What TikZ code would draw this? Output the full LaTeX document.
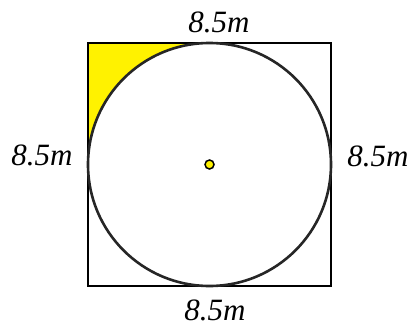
\documentclass[tikz,border=0pt]{standalone}
\usepackage{fontspec}
\setmainfont{Liberation Serif}
\usepackage{tikz}

\begin{document}
\begin{tikzpicture}[
  x=1pt, y=1pt,
  side/.style={font=\fontsize{31}{31}\selectfont\itshape, anchor=base, inner sep=0pt},
  frame/.style={draw=black, line width=1.2pt},
  ring/.style={draw=black!85, line width=2.6pt},
  dot/.style={circle, draw=black, fill=yellow, line width=1.5pt,
              minimum size=9pt, inner sep=0pt}
]
\useasboundingbox (0,0) rectangle (415,333);

% square corners and centre
\coordinate (sw) at (88,47);
\coordinate (ne) at (331,290);
\coordinate (o) at (209.5,168.5);

% shaded corner
\fill[yellow] (88,290) -- (209.5,290)
  arc[start angle=90, end angle=180, radius=121.5] -- cycle;

\draw[frame] (sw) rectangle (ne);
\draw[ring] (o) circle[radius=121.5];
\node[dot] (ctr) at (o) {};

% side lengths
\node[side] (top) at (219,301) {8.5m};
\node[side] (bot) at (215,13) {8.5m};
\node[side] (lft) at (42,168) {8.5m};
\node[side] (rgt) at (378,167) {8.5m};
\end{tikzpicture}
\end{document}
